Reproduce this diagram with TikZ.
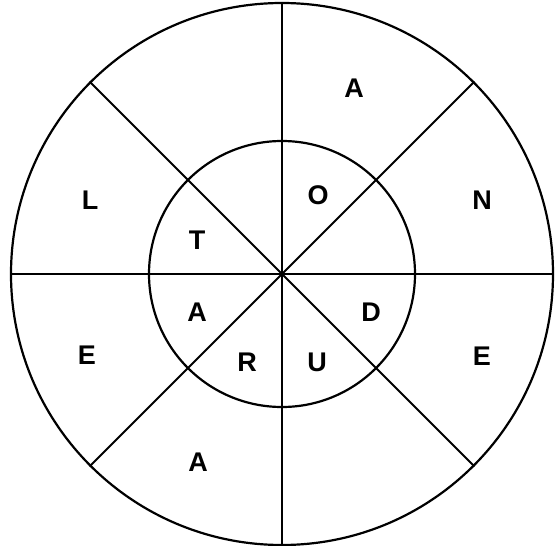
\documentclass[tikz,border=0pt]{standalone}
\usepackage{fontspec}
\setmainfont{Liberation Sans}
\begin{document}
\begin{tikzpicture}[x=1pt,y=-1pt,
  ring/.style={circle,draw,line width=2.2pt,inner sep=0pt},
  spoke/.style={line width=2pt},
  letter/.style={font=\fontsize{27}{27}\selectfont\bfseries,inner sep=0pt}]
\useasboundingbox (0,0) rectangle (558,546);
\coordinate (c) at (282,274);
\node[ring,minimum size=542pt] (outer) at (c) {};
\node[ring,minimum size=266pt] (inner) at (c) {};
\draw[spoke] (outer.90) -- (outer.270);
\draw[spoke] (outer.0) -- (outer.180);
\draw[spoke] (outer.45) -- (outer.225);
\draw[spoke] (outer.135) -- (outer.315);
% outer ring letters
\node[letter] (la1) at (354,88) {A};
\node[letter] (ln) at (482,200) {N};
\node[letter] (le1) at (482,356) {E};
\node[letter] (le2) at (87,355) {E};
\node[letter] (ll) at (90,200) {L};
\node[letter] (la2) at (198,462) {A};
% inner ring letters
\node[letter] (lo) at (318,195) {O};
\node[letter] (lt) at (197,240) {T};
\node[letter] (la3) at (197,312) {A};
\node[letter] (ld) at (371,312) {D};
\node[letter] (lr) at (247,362) {R};
\node[letter] (lu) at (317,362) {U};
\end{tikzpicture}
\end{document}
